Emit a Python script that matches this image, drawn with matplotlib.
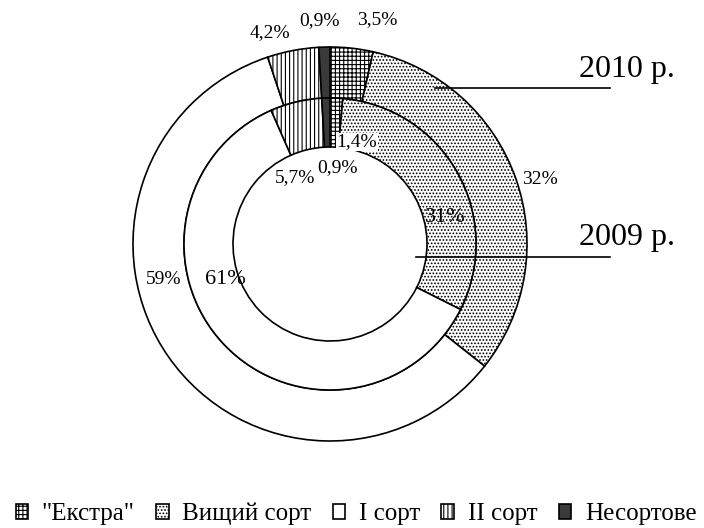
import matplotlib.pyplot as plt

plt.rcParams['font.family'] = ['Liberation Serif', 'DejaVu Serif']
plt.rcParams['hatch.linewidth'] = 0.8

categories = ['"Екстра"', 'Вищий сорт', 'I сорт', 'II сорт', 'Несортове']
share_2010 = [3.5, 32, 59, 4.2, 0.9]
share_2009 = [1.4, 31, 61, 5.7, 0.9]
labels_2010 = ['3,5%', '32%', '59%', '4,2%', '0,9%']
labels_2009 = ['1,4%', '31%', '61%', '5,7%', '0,9%']

colors = ['white', 'white', 'white', 'white', '#3a3a3a']
hatches = ['++++', '.....', '', '||||', '']

# label placement, image pixels (x, y from top)
pos_2010 = [(377, 20), (540, 180), (164, 280), (270, 33), (319, 21)]
pos_2009 = [(357, 142), (445, 218), (225, 280), (295, 178), (337, 168)]

W, H = 704, 528
cx, cy = 330, H - 244
R, r_mid, r_hole = 197, 146, 97

fig = plt.figure(figsize=(7.04, 5.28), dpi=100)
ax = fig.add_axes([0, 0, 1, 1])

wp = dict(edgecolor='black', linewidth=1.2)
outer, _ = ax.pie(share_2010, radius=R, center=(cx, cy), startangle=90,
                  counterclock=False, colors=colors, hatch=hatches,
                  wedgeprops=dict(width=R - r_mid, **wp), frame=True)
inner, _ = ax.pie(share_2009, radius=r_mid, center=(cx, cy), startangle=90,
                  counterclock=False, colors=colors, hatch=hatches,
                  wedgeprops=dict(width=r_mid - r_hole, **wp), frame=True)
ax.set_xlim(0, W)
ax.set_ylim(0, H)
ax.set_aspect('equal')
ax.axis('off')

for lab, (x, y) in zip(labels_2010, pos_2010):
    ax.text(x, H - y, lab, ha='center', va='center', fontsize=14)
for i, (lab, (x, y)) in enumerate(zip(labels_2009, pos_2009)):
    fs = 16 if lab in ('31%', '61%') else 14
    bb = dict(facecolor='white', edgecolor='none', pad=0.5) if i == 0 else None
    ax.text(x, H - y, lab, ha='center', va='center', fontsize=fs, bbox=bb)

# year callouts
ax.plot([435, 610], [H - 88, H - 88], color='black', lw=1.2)
ax.plot([416, 610], [H - 257, H - 257], color='black', lw=1.2)
ax.text(627, H - 70, '2010 р.', ha='center', va='center', fontsize=23)
ax.text(627, H - 237, '2009 р.', ha='center', va='center', fontsize=23)

fig.legend(outer, categories, loc='center', ncol=5,
           bbox_to_anchor=(356 / W, 14 / H), frameon=False, fontsize=18,
           handlelength=0.5, handleheight=0.5, handletextpad=0.55,
           columnspacing=0.85, borderpad=0, borderaxespad=0)

fig.savefig('out.png', dpi=100)
